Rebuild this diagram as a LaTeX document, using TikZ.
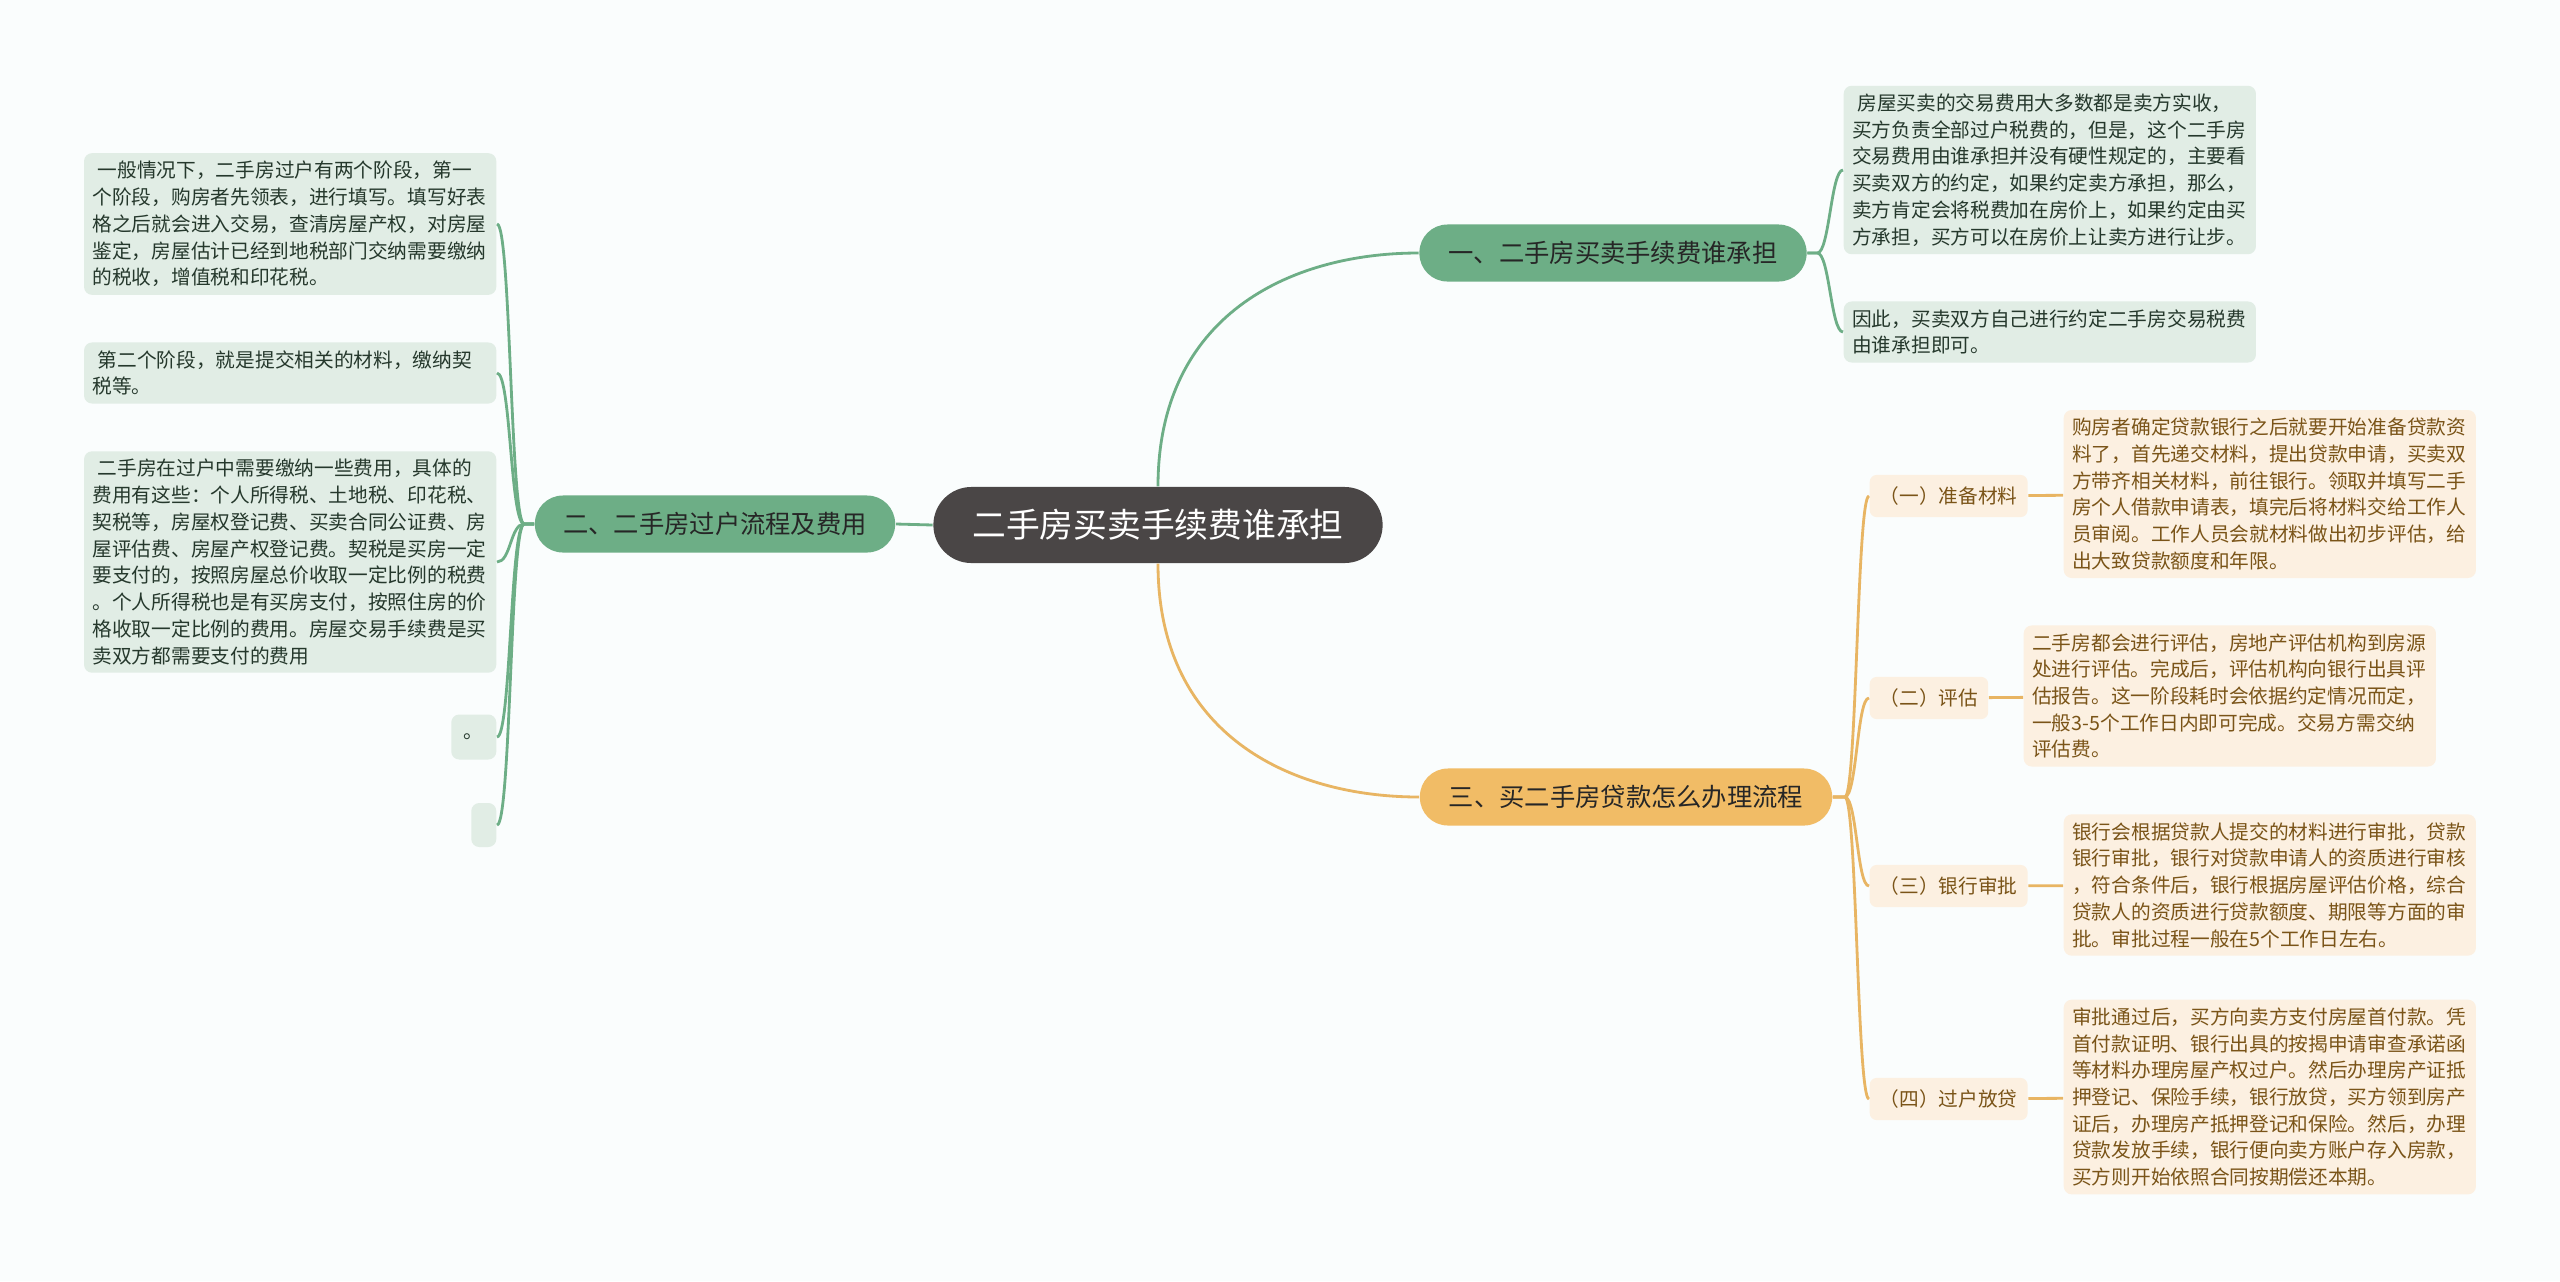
\documentclass[tikz,border=0pt]{standalone}
\usepackage{fontspec}
\setmainfont{Noto Sans CJK SC}
\definecolor{bgc}{HTML}{FAFDFD}
\definecolor{rootc}{HTML}{4A4646}
\definecolor{grn}{HTML}{6DAE86}
\definecolor{grnleaf}{HTML}{E1EDE5}
\definecolor{grntxt}{HTML}{25382C}
\definecolor{org}{HTML}{F1BC66}
\definecolor{orgline}{HTML}{E8B563}
\definecolor{orgleaf}{HTML}{FCF0E1}
\definecolor{orgtxt}{HTML}{7A5418}

\begin{document}
\begin{tikzpicture}[x=0.01cm, y=-0.01cm,
  root/.style={fill=rootc, text=white, rounded corners=0.38cm, minimum width=4.49cm, minimum height=0.76cm, font=\fontsize{9.6}{11}\selectfont},
  topic/.style={rounded corners=0.28cm, minimum height=0.57cm, text=black!85, font=\fontsize{7.2}{9}\selectfont},
  leaf/.style={rounded corners=0.08cm, text width=3.95cm, inner xsep=0.085cm, inner ysep=0.08cm, align=left, font=\fontsize{5.6}{7.6}\selectfont},
  gleaf/.style={leaf, fill=grnleaf, text=grntxt},
  oleaf/.style={leaf, fill=orgleaf, text=orgtxt},
  sub/.style={fill=orgleaf, text=orgtxt, rounded corners=0.07cm, minimum height=0.41cm, inner xsep=0.1cm, font=\fontsize{5.6}{7}\selectfont},
  gline/.style={grn, line width=0.8pt},
  oline/.style={orgline, line width=0.8pt}
]
\useasboundingbox (0,0) rectangle (2560,1281);
\fill[bgc] (0,0) rectangle (2560,1281);

% centre and main topics
\node[root] (main) at (1158,525) {二手房买卖手续费谁承担};
\node[topic, fill=grn, minimum width=3.87cm] (fee) at (1613,253) {一、二手房买卖手续费谁承担};
\node[topic, fill=grn, minimum width=3.60cm] (transfer) at (715,524) {二、二手房过户流程及费用};
\node[topic, fill=org, minimum width=4.12cm] (loan) at (1626,797) {三、买二手房贷款怎么办理流程};

\draw[gline] (main.north) .. controls +(0,-170) and +(-130,0) .. (fee.west);
\draw[gline] (main.west) -- (transfer.east);
\draw[oline] (main.south) .. controls +(0,170) and +(-130,0) .. (loan.west);

% left side
\node[gleaf, anchor=east] (stage1) at (497,224) {\hspace*{1.5pt}一般情况下，二手房过户有两个阶段，第一\\个阶段，购房者先领表，进行填写。填写好表\\格之后就会进入交易，查清房屋产权，对房屋\\鉴定，房屋估计已经到地税部门交纳需要缴纳\\的税收，增值税和印花税。};
\node[gleaf, anchor=east] (stage2) at (497,373) {\hspace*{1.5pt}第二个阶段，就是提交相关的材料，缴纳契\\税等。};
\node[gleaf, anchor=east] (costs) at (497,562) {\hspace*{1.5pt}二手房在过户中需要缴纳一些费用，具体的\\费用有这些：个人所得税、土地税、印花税、\\契税等，房屋权登记费、买卖合同公证费、房\\屋评估费、房屋产权登记费。契税是买房一定\\要支付的，按照房屋总价收取一定比例的税费\\。个人所得税也是有买房支付，按照住房的价\\格收取一定比例的费用。房屋交易手续费是买\\卖双方都需要支付的费用};
\node[fill=grnleaf, text=grntxt, rounded corners=0.08cm, minimum width=0.45cm, minimum height=0.45cm, inner sep=0pt, font=\fontsize{5.6}{7.6}\selectfont, anchor=east] (dot) at (497,737) {。};
\node[fill=grnleaf, rounded corners=0.08cm, minimum width=0.25cm, minimum height=0.44cm, inner sep=0pt, anchor=east] (blank) at (497,825) {};

\foreach \n in {stage1,stage2,costs,dot,blank}
  \draw[gline] (transfer.west) -- ++(-10,0) .. controls +(-14,0) and +(14,0) .. (\n.east);

% right side, first topic
\node[gleaf, anchor=west] (seller) at (1843,170) {\hspace*{1.5pt}房屋买卖的交易费用大多数都是卖方实收，\\买方负责全部过户税费的，但是，这个二手房\\交易费用由谁承担并没有硬性规定的，主要看\\买卖双方的约定，如果约定卖方承担，那么，\\卖方肯定会将税费加在房价上，如果约定由买\\方承担，买方可以在房价上让卖方进行让步。};
\node[gleaf, anchor=west] (agree) at (1843,332) {因此，买卖双方自己进行约定二手房交易税费\\由谁承担即可。};

\foreach \n in {seller,agree}
  \draw[gline] (fee.east) -- ++(10,0) .. controls +(12,0) and +(-12,0) .. (\n.west);

% right side, third topic
\node[sub, anchor=west] (prep) at (1869,496) {（一）准备材料};
\node[sub, anchor=west] (eval) at (1869,698) {（二）评估};
\node[sub, anchor=west] (bank) at (1869,886) {（三）银行审批};
\node[sub, anchor=west] (lend) at (1869,1099) {（四）过户放贷};

\foreach \n in {prep,eval,bank,lend}
  \draw[oline] (loan.east) -- ++(12,0) .. controls +(12,0) and +(-12,0) .. (\n.west);

\node[oleaf, anchor=west] (prepT) at (2063,494) {购房者确定贷款银行之后就要开始准备贷款资\\料了，首先递交材料，提出贷款申请，买卖双\\方带齐相关材料，前往银行。领取并填写二手\\房个人借款申请表，填完后将材料交给工作人\\员审阅。工作人员会就材料做出初步评估，给\\出大致贷款额度和年限。};
\node[oleaf, anchor=west] (evalT) at (2023,696) {二手房都会进行评估，房地产评估机构到房源\\处进行评估。完成后，评估机构向银行出具评\\估报告。这一阶段耗时会依据约定情况而定，\\一般3-5个工作日内即可完成。交易方需交纳\\评估费。};
\node[oleaf, anchor=west] (bankT) at (2063,885) {银行会根据贷款人提交的材料进行审批，贷款\\银行审批，银行对贷款申请人的资质进行审核\\，符合条件后，银行根据房屋评估价格，综合\\贷款人的资质进行贷款额度、期限等方面的审\\批。审批过程一般在5个工作日左右。};
\node[oleaf, anchor=west] (lendT) at (2063,1097) {审批通过后，买方向卖方支付房屋首付款。凭\\首付款证明、银行出具的按揭申请审查承诺函\\等材料办理房屋产权过户。然后办理房产证抵\\押登记、保险手续，银行放贷，买方领到房产\\证后，办理房产抵押登记和保险。然后，办理\\贷款发放手续，银行便向卖方账户存入房款，\\买方则开始依照合同按期偿还本期。};

\draw[oline] (prep) -- (prepT);
\draw[oline] (eval) -- (evalT);
\draw[oline] (bank) -- (bankT);
\draw[oline] (lend) -- (lendT);
\end{tikzpicture}
\end{document}
